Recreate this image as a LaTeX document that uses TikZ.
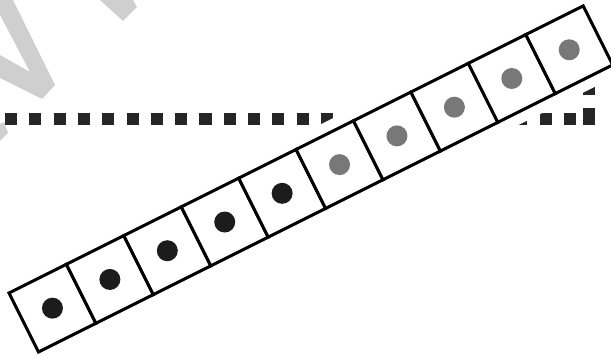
\documentclass[tikz,border=0pt]{standalone}
\definecolor{wm}{HTML}{CFCFCF}
\definecolor{dashc}{HTML}{262626}
\definecolor{dotdark}{HTML}{1C1C1C}
\definecolor{dotgray}{HTML}{787878}
\begin{document}
\begin{tikzpicture}[x=1pt,y=1pt,
  cellbox/.style={draw=black, line width=3pt, fill=white, minimum width=64.2pt,
    minimum height=66pt, inner sep=0pt, outer sep=0pt, transform shape},
  dotdk/.style={circle, fill=dotdark, minimum size=21pt, inner sep=0pt},
  dotgr/.style={circle, fill=dotgray, minimum size=21pt, inner sep=0pt},
  dashline/.style={draw=dashc, line width=12pt, dash pattern=on 12.15pt off 12.15pt},
  dashvert/.style={draw=dashc, line width=12pt, dash pattern=on 17.4pt off 13.1pt on 12.15pt off 12.15pt},
  wmark/.style={fill=wm}]
\useasboundingbox (0,0) rectangle (611,356);
% watermark fragments
\fill[wmark] (0,356) -- (13,356) -- (55,271) -- (42,257) -- (0,278) -- (0,301) -- (30,284) -- (0,341) -- cycle;
\fill[wmark] (100,356) -- (133,356) -- (137,349) -- (123,335) -- cycle;
\fill[wmark] (0,232) -- (4,234) -- (8,223) -- (0,215) -- cycle;
% dashed line
\coordinate (ls) at (5,236.5);
\coordinate (lc) at (589,236.5);
\coordinate (lb) at (589,230.5);
\coordinate (le) at (589,320);
\draw[dashline] (ls) -- (lc);
\draw[dashvert] (lb) -- (le);
% strip
\begin{scope}[shift={(9,63)}, rotate=26.565]
  \fill[white] (-11.5,11.5) rectangle (653.5,-77.5);
  \foreach \i in {0,...,9} {
    \node[cellbox] (c\i) at ({(\i+0.5)*64.2},-33) {};
  }
  \foreach \i in {0,...,4} { \node[dotdk] (d\i) at (c\i.center) {}; }
  \foreach \i in {5,...,9} { \node[dotgr] (d\i) at (c\i.center) {}; }
\end{scope}
\end{tikzpicture}
\end{document}
